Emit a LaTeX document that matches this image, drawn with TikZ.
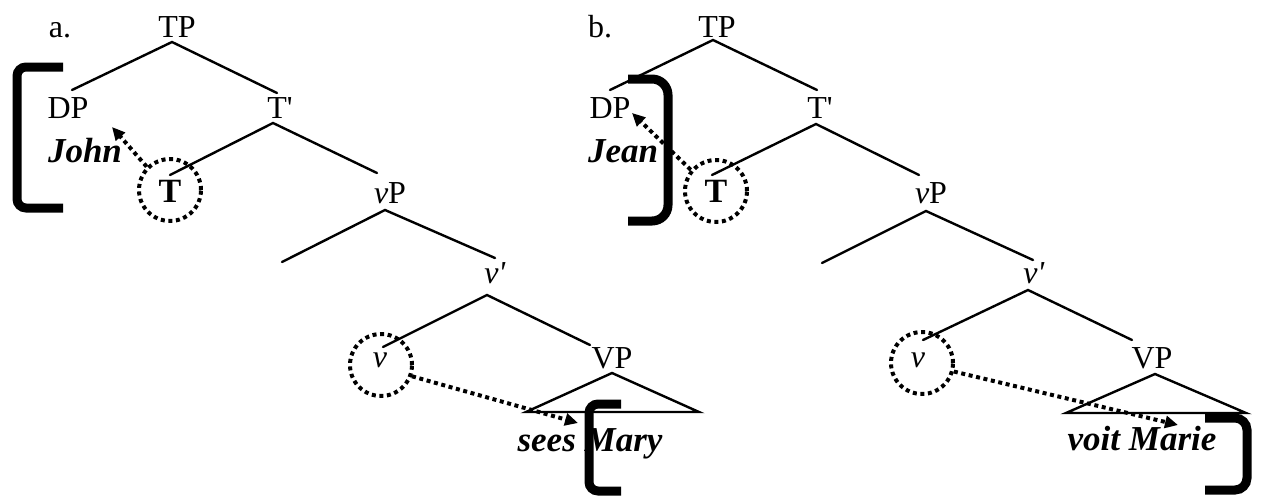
\documentclass[tikz,border=0pt]{standalone}
\usepackage{fontspec}
\setmainfont{Liberation Serif}
\usetikzlibrary{arrows.meta}
\begin{document}
\begin{tikzpicture}[x=1pt,y=-1pt,
  lab/.style={font=\fontsize{32}{32}\selectfont, inner sep=0pt, anchor=base},
  headb/.style={font=\fontsize{34}{34}\selectfont\bfseries, inner sep=0pt, anchor=base},
  word/.style={font=\fontsize{35}{35}\selectfont\bfseries\itshape, inner sep=0pt, anchor=base},
  branch/.style={line width=2.4pt, line cap=round},
  brack/.style={line width=9pt, rounded corners=9pt},
  dotc/.style={circle, draw, line width=4pt, dash pattern=on 4pt off 3.6pt, minimum size=62pt, inner sep=0pt},
  move/.style={line width=4pt, dash pattern=on 4pt off 3.6pt, -{Triangle[length=13pt,width=12pt]}}]
\useasboundingbox (0,0) rectangle (1261,496);

% ================= panel a =================
\node[lab] (laba) at (60,37) {a.};
\node[lab] (TPa) at (177,37) {TP};
\node[lab] (DPa) at (68,118) {DP};
\node[word] (Johna) at (85,162) {John};
\node[lab] (Tbara) at (280,118) {T\textquotesingle};
\node[headb] (Ta) at (170,202) {T};
\node[lab] (vPa) at (390,203) {\textit{v}P};
\node[lab] (vbara) at (495,283) {\textit{v\textquotesingle}};
\node[lab] (va) at (380,367) {\textit{v}};
\node[lab] (VPa) at (612,368) {VP};
\node[word] (wa) at (590,451) {sees Mary};
\node[dotc] (Tca) at (170,190) {};
\node[dotc] (vca) at (381,365) {};

\coordinate (a1) at (172,42);  \coordinate (a2) at (72,90);   \coordinate (a3) at (277,93);
\coordinate (a4) at (273,123); \coordinate (a5) at (170,175); \coordinate (a6) at (377,173);
\coordinate (a7) at (385,210); \coordinate (a8) at (282,262); \coordinate (a9) at (495,258);
\coordinate (a10) at (487,295); \coordinate (a11) at (383,347); \coordinate (a12) at (590,345);
\coordinate (a13) at (612,373); \coordinate (a14) at (526,412); \coordinate (a15) at (699,412);
\coordinate (ga) at (112,127); \coordinate (gb) at (578,423);

\draw[branch] (a2) -- (a1) -- (a3);
\draw[branch] (a5) -- (a4) -- (a6);
\draw[branch] (a8) -- (a7) -- (a9);
\draw[branch] (a11) -- (a10) -- (a12);
\draw[branch, line join=miter] (a13) -- (a14) -- (a15) -- cycle;

\draw[brack] (63,67) -- (17,67) -- (17,208) -- (63,208);
\draw[brack] (621,404) -- (589,404) -- (589,491) -- (621,491);

\draw[move] (Tca.135) -- (ga);
\draw[move] (vca.-20) -- (gb);

% ================= panel b =================
\node[lab] (labb) at (600,37) {b.};
\node[lab] (TPb) at (717,37) {TP};
\node[lab] (DPb) at (610,118) {DP};
\node[word] (Jeanb) at (623,162) {Jean};
\node[lab] (Tbarb) at (820,118) {T\textquotesingle};
\node[headb] (Tb) at (716,202) {T};
\node[lab] (vPb) at (931,203) {\textit{v}P};
\node[lab] (vbarb) at (1034,283) {\textit{v\textquotesingle}};
\node[lab] (vb) at (918,367) {\textit{v}};
\node[lab] (VPb) at (1152,368) {VP};
\node[word] (wb) at (1142,450) {voit Marie};
\node[dotc] (Tcb) at (716,191) {};
\node[dotc] (vcb) at (922,363) {};

\coordinate (b1) at (713,40);  \coordinate (b2) at (610,90);  \coordinate (b3) at (817,90);
\coordinate (b4) at (816,124); \coordinate (b5) at (712,175); \coordinate (b6) at (919,175);
\coordinate (b7) at (926,211); \coordinate (b8) at (822,263); \coordinate (b9) at (1033,260);
\coordinate (b10) at (1028,290); \coordinate (b11) at (923,340); \coordinate (b12) at (1132,340);
\coordinate (b13) at (1155,374); \coordinate (b14) at (1066,413); \coordinate (b15) at (1246,413);
\coordinate (gc) at (632,113); \coordinate (gd) at (1178,425);

\draw[branch] (b2) -- (b1) -- (b3);
\draw[branch] (b5) -- (b4) -- (b6);
\draw[branch] (b8) -- (b7) -- (b9);
\draw[branch] (b11) -- (b10) -- (b12);
\draw[branch, line join=miter] (b13) -- (b14) -- (b15) -- cycle;

\draw[brack, rounded corners=16pt] (628,79) -- (668,79) -- (668,221) -- (628,221);
\draw[brack, rounded corners=12pt] (1205,418) -- (1247,418) -- (1247,490) -- (1205,490);

\draw[move] (Tcb.140) -- (gc);
\draw[move] (vcb.-15) -- (gd);
\end{tikzpicture}
\end{document}
